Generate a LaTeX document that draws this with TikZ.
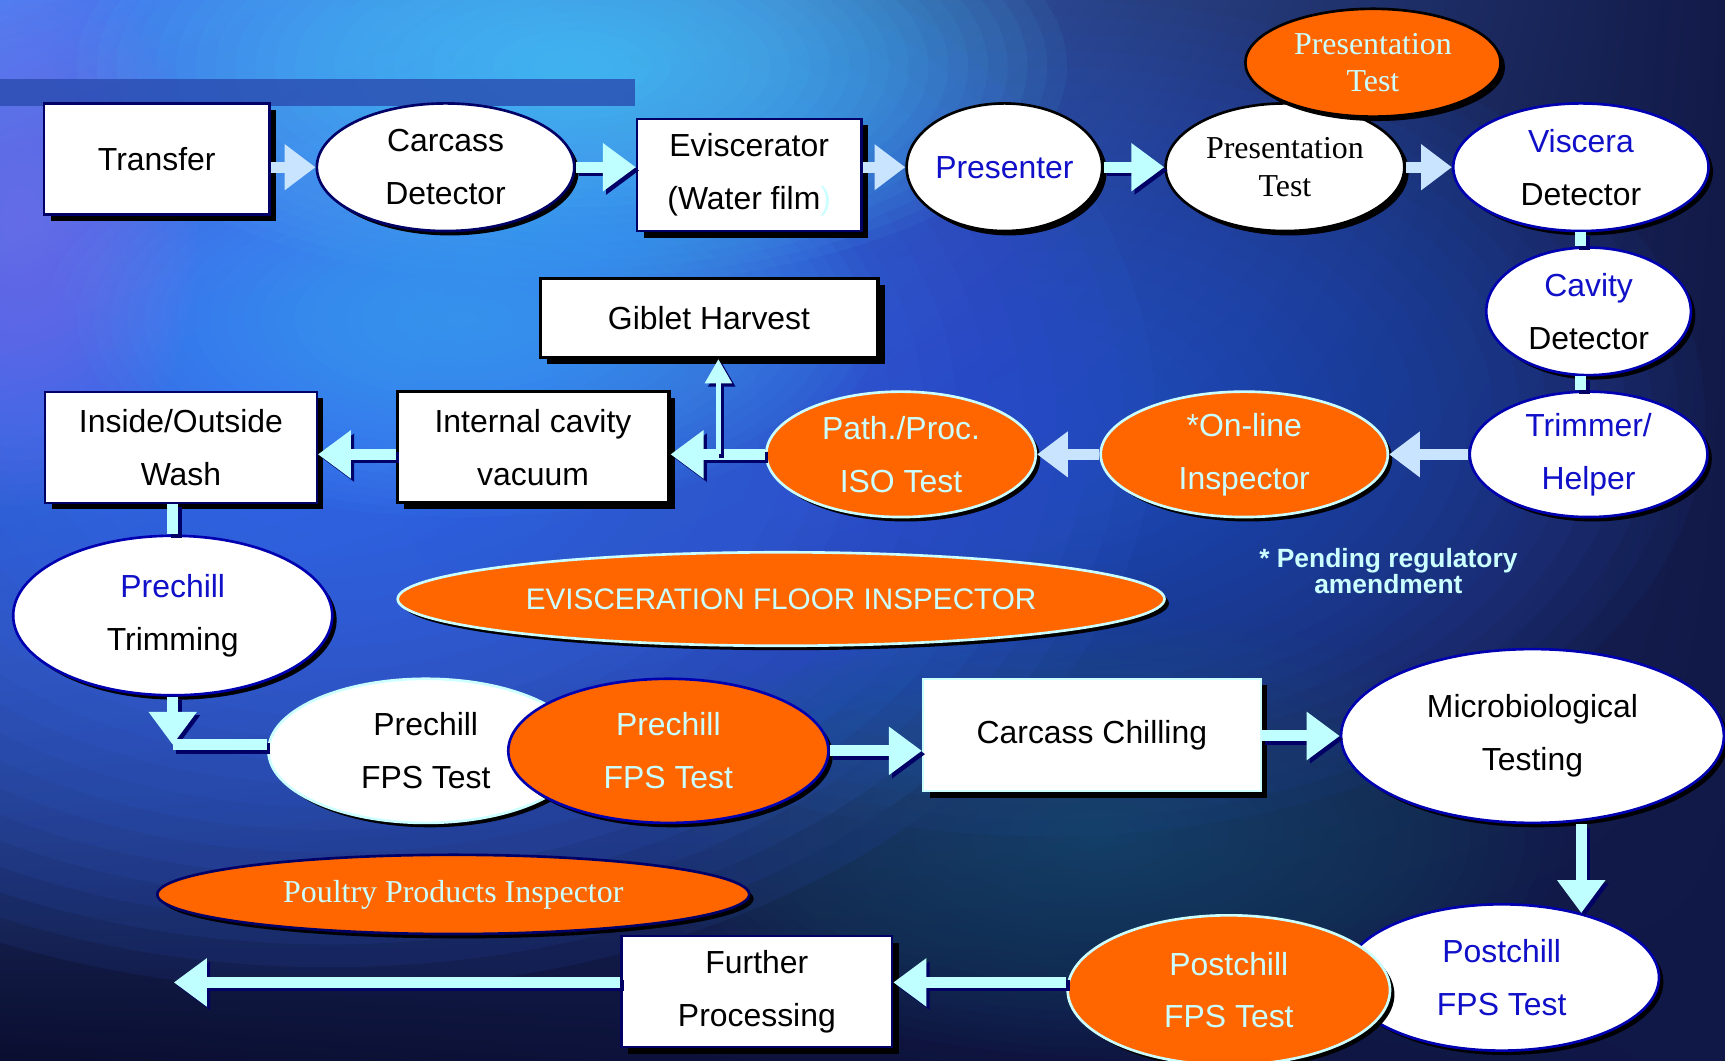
\documentclass[tikz,border=0pt]{standalone}
\usepackage{fontspec}
\setmainfont{Liberation Sans}
\newfontfamily\serifface{Liberation Serif}
\usetikzlibrary{shapes.geometric,arrows.meta,shadows,shadings}
\definecolor{orng}{HTML}{FF6600}
\definecolor{lcyan}{HTML}{CCFFFF}
\definecolor{tblue}{HTML}{1010C8}
\definecolor{navyc}{HTML}{000066}
\definecolor{obord}{HTML}{0000B0}
\definecolor{acyan}{HTML}{C0FFFF}
\definecolor{apale}{HTML}{C8E4FF}
\definecolor{bgUL}{HTML}{5088F2}
\definecolor{bgUR}{HTML}{121A48}
\definecolor{bgLL}{HTML}{0A0E30}
\definecolor{bgLR}{HTML}{101848}
\definecolor{glA}{HTML}{50D0FF}
\definecolor{glAA}{HTML}{48B0FF}
\definecolor{glB}{HTML}{3A6CF8}
\definecolor{glC}{HTML}{2C5CE0}
\definecolor{glD}{HTML}{1E6A8A}
\definecolor{glE}{HTML}{8A80FF}
\definecolor{barc}{HTML}{2A4CB0}
\newcommand\mysf{\fontsize{29}{48}\selectfont}
\newcommand\myrm{\serifface\fontsize{29}{34}\selectfont}
\newcommand\glow[6]{\foreach \k in {1,...,25}{\fill[#1, opacity=#6] (#2,#3) ellipse [x radius={#4pt/25*\k}, y radius={#5pt/25*\k}];}}
\tikzset{
  shbox/.style={drop shadow={shadow xshift=6pt, shadow yshift=-6pt, fill=black, opacity=1}},
  shov/.style={drop shadow={shadow xshift=4pt, shadow yshift=-4pt, fill=black, opacity=1}},
  pbox/.style={rectangle, fill=white, draw=navyc, line width=2pt, inner sep=0pt, align=center, font=\mysf, shbox},
  oval/.style={ellipse, inner sep=0pt, align=center, font=\mysf, line width=2.4pt, shov},
  wov/.style={oval, fill=white, draw=obord},
  oov/.style={oval, fill=orng, draw=lcyan, text=lcyan},
  fat/.style={line width=10pt, draw=acyan},
  fatarr/.style={fat, -{Triangle[length=30pt,width=42pt]}},
  palearr/.style={line width=10pt, draw=apale, -{Triangle[length=28pt,width=40pt]}},
  thinarr/.style={line width=4pt, draw=acyan, -{Triangle[length=22pt,width=24pt]}},
}
\newcommand\shdraw[2]{\draw[#1, draw=navyc, transform canvas={shift={(3pt,-3pt)}}] #2;\draw[#1] #2;}
\begin{document}
\begin{tikzpicture}[x=1pt,y=-1pt]
\useasboundingbox (0,0) rectangle (1568,964);
\shade[upper left=bgUL, upper right=bgUR, lower left=bgLL, lower right=bgLR] (0,0) rectangle (1568,964);
\begin{scope}
\clip (0,0) rectangle (1568,964);
\glow{glB}{300}{380}{750}{520}{0.08}
\glow{glC}{950}{380}{600}{380}{0.05}
\glow{glA}{520}{60}{450}{200}{0.06}
\glow{glAA}{420}{290}{380}{180}{0.05}
\glow{glD}{1000}{760}{420}{200}{0.03}
\glow{glE}{20}{200}{160}{260}{0.04}
\end{scope}
\fill[barc, opacity=0.8] (0,72) rectangle (577,96);

% nodes
\node[pbox, minimum width=205pt, minimum height=101pt] (tr) at (142.5,144.5) {Transfer};
\node[wov, draw=navyc, minimum width=234pt, minimum height=116pt] (cd) at (405,152) {Carcass\\Detector};
\node[pbox, minimum width=204pt, minimum height=102pt] (ev) at (681,159) {Eviscerator\\(Water film{\color{lcyan})}};
\node[wov, draw=black, minimum width=174pt, minimum height=116pt, text=tblue] (pr) at (913,152) {Presenter};
\node[wov, draw=black, font=\myrm, minimum width=217pt, minimum height=116pt] (ptW) at (1168,152) {Presentation\\Test};
\node[oov, draw=black, font=\myrm, minimum width=232pt, minimum height=98pt] (ptO) at (1248,57) {Presentation\\Test};
\node[wov, minimum width=232pt, minimum height=116pt] (vd) at (1437,152) {\textcolor{tblue}{Viscera}\\Detector};
\node[wov, minimum width=186pt, minimum height=116pt] (cav) at (1444,283) {\textcolor{tblue}{Cavity}\\Detector};
\node[wov, text=tblue, minimum width=216pt, minimum height=114pt] (th) at (1444,413) {Trimmer/\\Helper};
\node[oov, minimum width=261pt, minimum height=114pt] (ol) at (1131,413) {*On-line\\Inspector};
\node[oov, minimum width=245pt, minimum height=114pt] (pp) at (819,413) {Path./Proc.\\ISO Test};
\node[pbox, draw=black, line width=3pt, minimum width=307pt, minimum height=72pt] (gib) at (644.5,289) {Giblet Harvest};
\node[pbox, draw=black, line width=3pt, minimum width=247pt, minimum height=101pt] (ic) at (484.5,406.5) {Internal cavity\\vacuum};
\node[pbox, minimum width=247pt, minimum height=101pt] (wash) at (164.5,406.5) {Inside/Outside\\Wash};
\node[wov, minimum width=290pt, minimum height=145pt] (ptr) at (157,559.5) {\textcolor{tblue}{Prechill}\\Trimming};
\node[oov, font=\fontsize{27}{30}\selectfont, minimum width=697pt, minimum height=85pt] (efi) at (710,544.5) {EVISCERATION FLOOR INSPECTOR};
\node[wov, draw=lcyan, minimum width=286pt, minimum height=131pt] (fpsW) at (387,682.5) {Prechill\\FPS Test};
\node[oov, draw=obord, minimum width=291pt, minimum height=131pt] (fpsO) at (607.5,682.5) {Prechill\\FPS Test};
\node[pbox, draw=lcyan, minimum width=307pt, minimum height=102pt] (cc) at (992.5,668) {Carcass Chilling};
\node[wov, minimum width=348pt, minimum height=158pt] (mt) at (1393,669) {Microbiological\\Testing};
\node[wov, text=tblue, minimum width=286pt, minimum height=133pt] (pstW) at (1365,888.5) {Postchill\\FPS Test};
\node[oov, minimum width=293pt, minimum height=136pt] (pstO) at (1117,900) {Postchill\\FPS Test};
\node[pbox, minimum width=246pt, minimum height=101pt] (fp) at (688,901.5) {Further\\Processing};
\node[oov, draw=navyc, font=\myrm, minimum width=538pt, minimum height=72pt] (ppi) at (412,813) {Poultry Products Inspector};
\node[text=lcyan, font=\bfseries\fontsize{24}{24}\selectfont, align=center] (note) at (1262,519) {* Pending regulatory\\amendment};

% connectors
\draw[palearr] (tr.east |- cd.west) -- (cd.west);
\shdraw{fatarr}{(cd.east) -- (cd.east -| ev.west)}
\draw[palearr] (ev.east |- pr.west) -- (pr.west);
\shdraw{fatarr}{(pr.east) -- (ptW.west)}
\draw[palearr] (ptW.east) -- (vd.west);
\shdraw{fat}{(vd.south) -- (vd.south |- cav.north)}
\shdraw{fat}{(vd.south |- cav.south) -- (vd.south |- th.north)}
\draw[palearr] (th.west) -- (ol.east);
\draw[palearr] (ol.west) -- (pp.east);
\shdraw{fatarr}{(pp.west) -- (pp.west -| ic.east)}
\coordinate (br) at (653,413);
\shdraw{thinarr}{(br) -- (br |- gib.south)}
\shdraw{fatarr}{(ic.west |- pp.west) -- (wash.east |- pp.west)}
\shdraw{fat}{(ptr.north |- wash.south) -- (ptr.north)}
\coordinate (bend) at (157,677);
\shdraw{fatarr}{(ptr.south) -- (bend)}
\shdraw{fat}{(bend) -- (bend -| fpsW.west)}
\shdraw{fatarr}{(fpsO.east) -- (fpsO.east -| cc.west)}
\shdraw{fatarr}{(cc.east |- mt.west) -- (mt.west)}
\shdraw{fatarr}{(pstW.39 |- mt.south) -- (pstW.39)}
\coordinate (out) at (158,893);
\shdraw{fatarr}{(pstO.west |- out) -- (fp.east |- out)}
\shdraw{fatarr}{(fp.west |- out) -- (out)}
\end{tikzpicture}
\end{document}
